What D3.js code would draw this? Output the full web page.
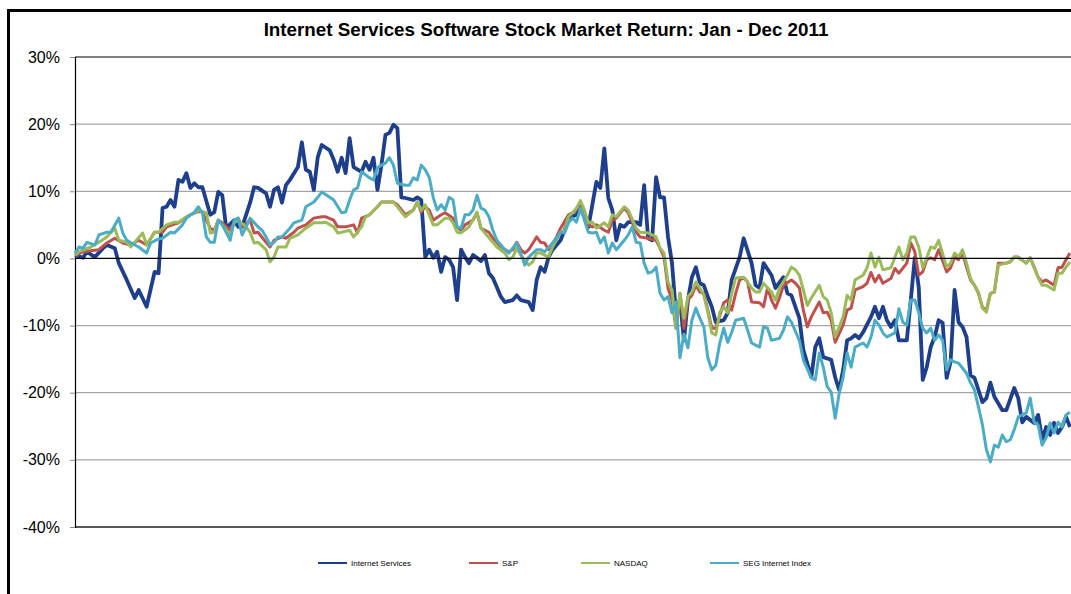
<!DOCTYPE html>
<html>
<head>
<meta charset="utf-8">
<script src="https://d3js.org/d3.v7.min.js"></script>
<style>
	body { margin: 0; background: #fff; }
	text { font-family: "Liberation Sans", Arial, sans-serif; }
</style>
</head>
<body>
<svg id="chart"></svg>
<script>
// trading day of 2011 (0..250) and cumulative return in %
const internetServices = [[0,0.5],[2,0.1],[3,1.0],[5,0.2],[7,1.5],[8,2.0],[10,1.5],[11,-0.7],[13,-3.2],[15,-5.9],[16,-4.7],[18,-7.2],[20,-2.0],[21,-2.2],[22,7.5],[23,7.7],[24,8.7],[25,7.7],[26,11.7],[27,11.4],[28,12.7],[29,10.5],[30,11.2],[31,10.6],[32,10.6],[34,6.5],[35,6.9],[36,9.9],[37,9.4],[38,4.5],[40,5.7],[41,4.7],[42,4.7],[44,8.3],[45,10.6],[46,10.5],[48,9.7],[49,7.7],[50,10.2],[51,10.6],[52,8.3],[53,10.9],[54,11.7],[56,13.6],[57,17.3],[58,13.2],[59,12.9],[60,10.2],[61,15.1],[62,16.9],[64,16.1],[65,14.7],[66,12.9],[67,15.0],[68,12.7],[69,17.9],[70,13.6],[72,12.9],[73,14.4],[74,13.2],[75,15.0],[76,10.2],[77,13.9],[78,18.4],[79,18.7],[80,19.9],[81,19.4],[82,9.1],[83,9.0],[85,8.7],[86,9.1],[87,8.7],[88,0.2],[89,1.3],[90,0.1],[91,1.0],[92,-2.0],[93,0.2],[94,-0.2],[95,-1.3],[96,-6.2],[97,1.3],[98,0.2],[99,-0.7],[100,0.5],[101,0.1],[102,-0.4],[103,0.5],[104,-2.2],[105,-2.9],[106,-4.3],[107,-5.7],[108,-6.5],[110,-6.2],[111,-5.5],[112,-6.2],[114,-6.5],[115,-7.7],[116,-3.2],[117,-1.3],[118,-2.0],[119,0.2],[120,1.3],[122,2.7],[123,4.2],[124,6.0],[126,6.5],[127,7.7],[128,6.2],[129,4.7],[131,11.4],[132,10.5],[133,16.4],[134,9.0],[135,7.2],[136,2.7],[137,5.0],[138,4.7],[139,5.4],[141,5.4],[142,5.0],[143,10.9],[144,3.0],[145,2.7],[146,12.1],[147,9.1],[148,9.1],[149,3.2],[150,-0.7],[151,-8.1],[152,-6.2],[153,-12.2],[154,-6.2],[155,-2.8],[156,-1.3],[157,-3.7],[158,-4.0],[159,-5.7],[160,-7.2],[161,-9.5],[163,-9.2],[164,-8.1],[165,-3.2],[167,0.2],[168,3.0],[170,-0.7],[171,-4.0],[172,-4.4],[173,-0.7],[175,-2.5],[176,-4.4],[178,-2.8],[179,-5.2],[180,-5.5],[182,-8.9],[183,-13.6],[185,-17.7],[186,-13.2],[187,-11.9],[188,-14.7],[190,-15.1],[191,-17.7],[192,-19.6],[193,-16.6],[194,-12.2],[195,-11.9],[196,-11.4],[197,-11.9],[198,-11.0],[200,-8.7],[201,-7.2],[202,-8.9],[203,-7.2],[204,-9.2],[205,-10.2],[206,-9.2],[207,-12.2],[209,-12.2],[210,-6.2],[211,0.1],[212,-4.3],[213,-18.1],[214,-16.2],[215,-13.2],[216,-11.7],[217,-9.2],[218,-9.6],[219,-17.8],[220,-15.4],[221,-4.7],[222,-9.5],[223,-10.2],[224,-11.7],[225,-17.4],[226,-17.8],[227,-19.6],[228,-21.4],[229,-20.8],[230,-18.5],[231,-20.6],[233,-22.6],[234,-22.6],[236,-19.3],[237,-20.8],[238,-24.4],[239,-23.6],[241,-24.5],[242,-23.3],[243,-27.0],[244,-25.1],[245,-26.3],[246,-24.5],[247,-26.0],[248,-25.1],[249,-23.6],[250,-25.1]];

const sp = [[0,0.4],[2,1.0],[6,1.3],[8,2.3],[10,3.0],[12,2.3],[14,2.0],[16,2.7],[18,2.0],[20,3.9],[22,3.9],[23,4.7],[26,5.3],[29,6.5],[31,7.0],[32,6.9],[34,4.5],[35,4.2],[36,5.7],[37,5.3],[39,4.2],[40,5.4],[41,6.0],[42,4.7],[44,5.7],[45,3.8],[46,3.9],[48,2.4],[49,1.7],[50,2.7],[52,3.2],[53,3.0],[55,3.9],[56,4.5],[58,5.0],[60,6.0],[62,6.2],[63,6.2],[65,5.7],[66,4.7],[68,4.7],[70,5.0],[71,3.8],[72,6.0],[74,6.5],[76,7.7],[77,8.4],[80,8.4],[81,8.0],[83,6.5],[85,7.2],[86,8.4],[87,6.9],[88,7.7],[89,7.2],[90,5.7],[92,6.5],[93,6.8],[95,6.0],[96,4.7],[97,4.2],[98,5.0],[100,5.7],[101,6.8],[102,4.5],[104,3.9],[105,3.0],[106,2.4],[107,1.7],[109,1.0],[110,1.3],[111,2.4],[112,1.3],[113,0.8],[114,1.3],[116,3.2],[117,2.4],[118,2.3],[119,1.3],[121,3.2],[122,4.5],[124,6.5],[125,6.8],[126,7.2],[127,8.4],[128,6.8],[129,5.0],[130,4.7],[131,5.0],[133,4.2],[134,3.9],[135,5.7],[136,6.0],[138,7.5],[139,6.8],[141,3.9],[142,3.2],[144,3.0],[146,2.7],[147,1.5],[148,0.2],[149,-4.4],[150,-6.2],[151,-10.4],[152,-5.2],[153,-10.4],[154,-6.2],[155,-5.5],[156,-4.0],[157,-5.0],[158,-5.2],[159,-7.7],[160,-10.4],[161,-10.4],[163,-6.6],[164,-6.2],[165,-7.7],[166,-5.2],[167,-3.2],[168,-2.9],[169,-3.5],[170,-6.5],[172,-6.6],[173,-7.2],[174,-4.4],[175,-6.2],[176,-7.4],[177,-5.9],[178,-4.0],[180,-3.2],[181,-3.7],[182,-4.4],[183,-7.7],[184,-10.2],[185,-8.7],[187,-6.5],[188,-8.1],[189,-8.0],[190,-9.2],[191,-12.5],[193,-9.9],[194,-7.7],[195,-7.4],[196,-4.7],[198,-4.2],[199,-3.7],[200,-2.1],[201,-3.5],[202,-2.5],[203,-3.7],[205,-3.0],[206,-1.5],[207,-2.2],[209,-0.7],[210,2.3],[211,1.0],[212,-2.5],[213,-2.0],[214,-0.2],[215,0.1],[216,-0.2],[217,1.3],[219,-2.0],[220,-1.4],[221,0.2],[222,-0.2],[223,0.8],[224,-1.3],[225,-3.2],[226,-4.0],[227,-5.2],[228,-7.3],[229,-7.7],[230,-5.2],[231,-5.0],[232,-0.7],[234,-0.7],[235,-0.5],[236,0.2],[237,0.2],[239,-0.7],[240,0.1],[241,-1.3],[242,-2.8],[243,-3.5],[244,-3.2],[246,-4.0],[247,-1.4],[248,-1.3],[249,-0.2],[250,0.8]];

const nasdaq = [[0,0.5],[1,1.0],[4,1.7],[6,2.4],[8,3.2],[10,4.5],[11,2.7],[13,2.4],[14,1.7],[17,3.8],[18,2.0],[20,3.9],[21,3.9],[23,5.0],[25,5.4],[26,5.4],[28,6.2],[30,6.8],[31,7.2],[33,6.8],[34,3.8],[35,3.9],[36,5.7],[37,5.0],[39,3.5],[40,5.3],[41,5.7],[43,4.7],[44,3.9],[45,2.3],[46,2.4],[48,1.3],[49,-0.5],[50,0.2],[51,1.7],[53,1.7],[54,3.0],[56,3.5],[58,4.5],[60,5.3],[62,5.3],[63,5.4],[65,4.7],[66,3.8],[67,3.9],[69,4.2],[70,3.2],[72,4.7],[73,6.2],[74,6.5],[76,7.7],[77,8.4],[80,8.4],[81,7.7],[83,6.2],[85,7.2],[86,8.4],[87,7.2],[88,8.0],[90,5.0],[91,5.0],[93,6.0],[94,6.0],[95,5.3],[96,3.9],[97,3.8],[99,4.7],[101,6.9],[102,4.5],[103,3.8],[105,2.4],[106,1.7],[108,0.8],[109,-0.2],[110,0.2],[111,1.5],[112,0.5],[114,-1.0],[115,-0.5],[116,0.8],[117,0.8],[119,0.2],[120,1.7],[122,3.9],[123,4.2],[124,6.2],[125,6.8],[126,7.5],[127,8.6],[128,7.2],[129,5.3],[130,5.4],[131,4.5],[133,5.3],[134,4.7],[135,6.5],[136,6.2],[138,7.7],[139,7.2],[141,4.5],[142,3.9],[144,3.8],[146,3.2],[147,1.5],[148,0.8],[149,-3.5],[150,-4.7],[151,-10.4],[152,-5.2],[153,-8.9],[154,-5.7],[155,-5.0],[156,-3.5],[157,-4.4],[158,-5.5],[159,-8.0],[160,-11.1],[161,-11.4],[162,-8.0],[163,-7.2],[164,-8.1],[165,-5.2],[166,-2.9],[168,-2.8],[170,-4.4],[171,-5.0],[172,-5.0],[173,-3.7],[175,-5.0],[176,-6.2],[177,-4.4],[179,-2.5],[180,-1.3],[181,-1.7],[182,-2.5],[183,-4.7],[184,-7.0],[185,-5.9],[187,-4.0],[188,-5.7],[189,-6.2],[190,-8.1],[191,-11.7],[193,-8.7],[194,-5.5],[195,-6.2],[196,-3.2],[198,-2.5],[199,-1.4],[200,0.8],[201,-1.3],[202,0.2],[203,-1.7],[205,-1.4],[207,1.7],[208,-0.2],[209,0.8],[210,3.2],[211,3.2],[212,1.7],[213,-1.4],[214,0.1],[215,1.7],[216,1.5],[217,2.7],[219,-1.3],[220,-0.7],[221,0.8],[222,0.2],[223,1.3],[224,-0.7],[225,-3.0],[226,-4.0],[227,-5.0],[228,-7.4],[229,-8.0],[230,-5.2],[231,-5.0],[232,-1.0],[234,-0.7],[235,-0.5],[236,0.2],[237,0.1],[239,-0.7],[240,0.1],[241,-1.4],[242,-2.8],[243,-4.0],[244,-4.0],[246,-4.7],[247,-2.2],[248,-2.2],[249,-1.3],[250,-0.5]];

const segIndex = [[0,0.8],[1,1.7],[2,1.5],[3,2.4],[5,2.0],[6,3.5],[8,3.9],[9,3.9],[11,6.0],[12,3.8],[13,2.7],[15,2.0],[16,1.7],[18,0.8],[19,2.3],[21,2.9],[22,3.0],[24,3.9],[25,3.8],[27,5.0],[28,6.0],[30,6.9],[31,7.7],[32,6.8],[33,3.2],[34,2.4],[35,2.4],[36,5.7],[37,5.0],[39,2.7],[40,5.7],[41,6.0],[42,3.5],[43,4.7],[44,6.0],[46,4.7],[47,4.2],[48,3.2],[49,2.0],[50,2.4],[51,3.2],[52,3.2],[54,4.5],[55,5.3],[57,5.7],[58,7.7],[60,8.4],[61,9.1],[62,9.9],[64,9.1],[65,8.7],[67,6.8],[68,6.9],[69,8.7],[70,10.2],[71,10.5],[72,12.9],[74,12.0],[75,11.7],[76,13.5],[77,13.9],[78,14.2],[79,15.0],[80,13.9],[81,11.2],[83,10.9],[84,10.9],[85,12.0],[86,11.7],[87,13.9],[88,13.2],[89,12.1],[90,9.1],[91,7.2],[92,8.0],[93,7.2],[94,9.1],[95,8.7],[96,4.7],[97,4.5],[98,6.5],[99,6.5],[100,7.2],[101,9.4],[102,7.5],[103,7.2],[104,6.2],[105,4.2],[106,2.7],[108,1.3],[109,0.8],[111,2.3],[112,0.8],[113,-1.0],[114,0.2],[116,1.3],[117,1.3],[118,1.0],[120,2.3],[121,3.0],[122,3.9],[123,3.8],[124,5.3],[125,6.0],[126,5.4],[127,7.5],[128,5.7],[129,3.9],[130,3.8],[131,3.9],[132,2.3],[133,3.2],[134,0.8],[135,2.3],[136,1.3],[137,2.0],[138,2.7],[139,3.5],[140,4.7],[141,2.4],[142,2.3],[143,-0.7],[144,-2.2],[145,-2.0],[146,-1.3],[147,-5.2],[148,-6.2],[149,-5.7],[150,-8.1],[151,-6.5],[152,-14.8],[153,-11.3],[154,-13.3],[155,-9.2],[156,-7.4],[157,-8.9],[158,-10.2],[159,-14.8],[160,-16.6],[161,-15.9],[162,-12.6],[163,-10.4],[164,-12.5],[165,-11.0],[166,-9.2],[168,-8.9],[169,-10.7],[170,-12.6],[171,-12.9],[172,-13.2],[173,-10.2],[174,-10.4],[175,-12.2],[177,-11.9],[178,-10.7],[179,-8.7],[180,-9.5],[182,-12.2],[183,-15.1],[185,-17.8],[186,-18.1],[187,-14.1],[188,-16.2],[189,-19.1],[190,-19.9],[191,-23.8],[192,-20.1],[193,-17.7],[194,-14.1],[195,-16.2],[196,-13.2],[198,-12.6],[199,-13.2],[200,-11.7],[201,-9.2],[202,-9.9],[203,-11.1],[204,-11.7],[206,-11.1],[207,-7.5],[208,-9.5],[209,-9.9],[210,-6.2],[211,-6.2],[212,-8.1],[213,-10.4],[214,-11.1],[215,-10.4],[216,-12.2],[217,-11.4],[218,-12.2],[219,-16.6],[220,-15.1],[221,-15.4],[222,-15.6],[224,-17.1],[225,-18.5],[226,-19.6],[227,-22.1],[228,-24.8],[229,-28.5],[230,-30.3],[231,-27.8],[232,-28.1],[233,-26.3],[234,-27.3],[235,-27.0],[236,-25.5],[237,-23.6],[238,-23.3],[239,-23.0],[240,-20.8],[241,-24.4],[242,-24.8],[243,-27.8],[244,-26.7],[245,-24.5],[246,-26.0],[247,-24.4],[248,-25.1],[249,-23.3],[250,-22.9]];

const seriesNames = ['Internet Services', 'S&P', 'NASDAQ', 'SEG Internet Index'];
const yTicks = [30, 20, 10, 0, -10, -20, -30, -40];
const title = 'Internet Services Software Stock Market Return: Jan - Dec 2011';

const width = 1071, height = 594;
const margin = {top: 57, right: 1, bottom: 67, left: 75};
const colors = ['#1d3f8c', '#c0504d', '#9bbb59', '#4bacc6'];
const strokes = [3.8, 3, 3, 3];

const svg = d3.select('#chart')
	.attr('width', width)
	.attr('height', height);

// outer frame of the chart object
svg.append('rect')
	.attr('x', 8.5)
	.attr('y', 10.5)
	.attr('width', width + 20)
	.attr('height', height + 20)
	.attr('fill', '#fff')
	.attr('stroke', '#000')
	.attr('stroke-width', 3);

svg.append('text')
	.attr('x', 546)
	.attr('y', 36)
	.attr('text-anchor', 'middle')
	.attr('font-size', 18.8)
	.attr('font-weight', 'bold')
	.text(title);

const x = d3.scaleLinear().domain([0, 250]).range([margin.left, width - margin.right]);
const y = d3.scaleLinear().domain([-40, 30]).range([height - margin.bottom, margin.top]);

// gridlines
svg.append('g')
	.selectAll('line')
	.data(yTicks.filter(d => d !== 0 && d !== -40 && d !== 30))
	.join('line')
	.attr('x1', margin.left)
	.attr('x2', width + 5)
	.attr('y1', d => y(d))
	.attr('y2', d => y(d))
	.attr('stroke', '#a6a6a6')
	.attr('stroke-width', 1.2);

// frame
svg.append('line')
	.attr('x1', margin.left).attr('x2', width + 5)
	.attr('y1', y(30)).attr('y2', y(30))
	.attr('stroke', '#000').attr('stroke-width', 1.2);
svg.append('line')
	.attr('x1', margin.left).attr('x2', width + 5)
	.attr('y1', y(-40)).attr('y2', y(-40))
	.attr('stroke', '#222').attr('stroke-width', 1.5);

const yAxis = d3.axisLeft(y)
	.tickValues(yTicks)
	.tickSize(5)
	.tickPadding(10)
	.tickFormat(d => `${d}%`);

const yAxisGroup = svg.append('g')
	.attr('transform', `translate(${margin.left}, 0)`)
	.call(yAxis);
yAxisGroup.select('.domain').attr('stroke', '#000').attr('stroke-width', 1.2);
yAxisGroup.selectAll('.tick line').attr('stroke', '#888');
yAxisGroup.selectAll('text')
	.attr('font-size', 16)
	.attr('fill', '#000')
	.style('font-family', '"Liberation Sans", Arial, sans-serif');

const line = d3.line()
	.x(d => x(d[0]))
	.y(d => y(d[1]));

const allSeries = [internetServices, sp, nasdaq, segIndex];

svg.append('g')
	.selectAll('path')
	.data(allSeries)
	.join('path')
	.attr('d', line)
	.attr('fill', 'none')
	.attr('stroke', (d, i) => colors[i])
	.attr('stroke-width', (d, i) => strokes[i])
	.attr('stroke-linejoin', 'round');

// zero line
svg.append('line')
	.attr('x1', margin.left).attr('x2', width + 5)
	.attr('y1', y(0)).attr('y2', y(0))
	.attr('stroke', '#000').attr('stroke-width', 1.2);

// legend
const legendX = [318, 469, 581, 710];
const legend = svg.append('g')
	.selectAll('g')
	.data(seriesNames)
	.join('g')
	.attr('transform', (d, i) => `translate(${legendX[i]}, 563)`);

legend.append('line')
	.attr('x1', 0).attr('x2', 29)
	.attr('stroke', (d, i) => colors[i])
	.attr('stroke-width', 2);

legend.append('text')
	.attr('x', 33)
	.attr('y', 3)
	.attr('font-size', 8)
	.text(d => d);
</script>
</body>
</html>
